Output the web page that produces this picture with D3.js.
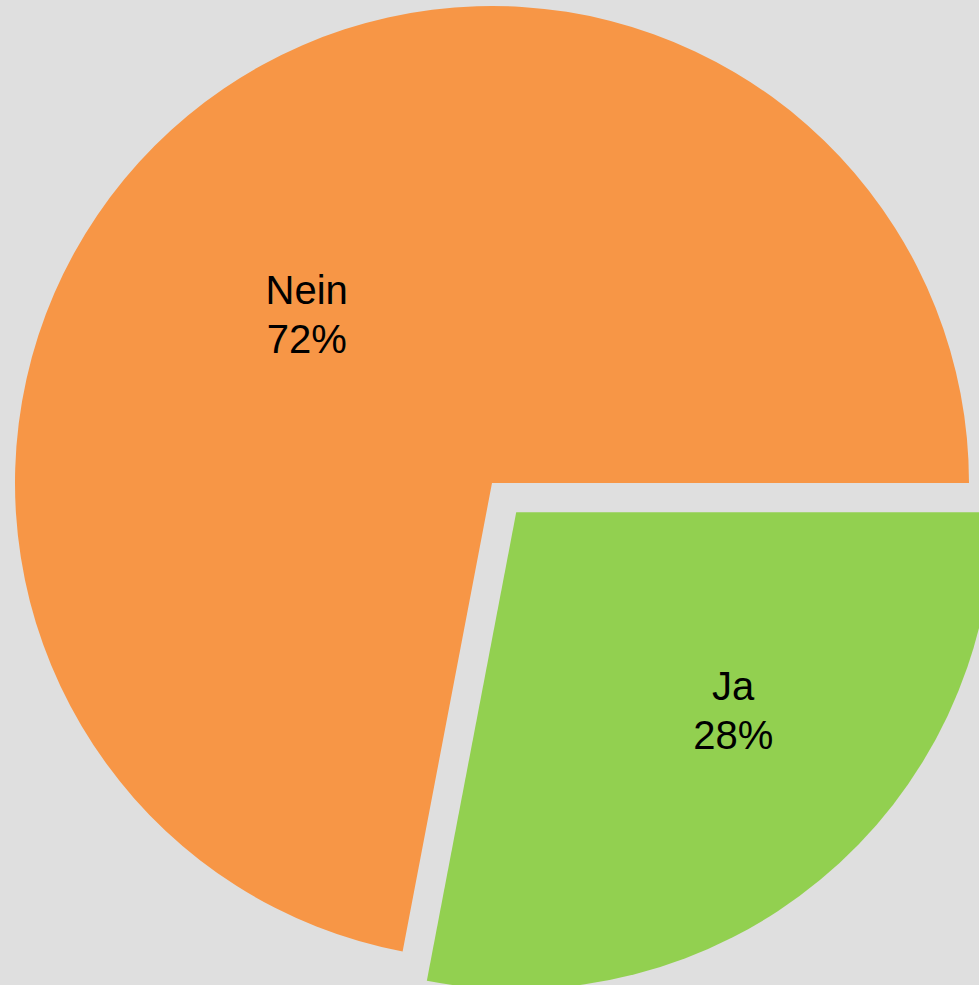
<!DOCTYPE html>
<html>
<head>
<meta charset="utf-8">
<script src="https://cdn.jsdelivr.net/npm/d3@7"></script>
<style>
  html, body { margin: 0; padding: 0; background: #dfdfdf; }
  svg { display: block; }
</style>
</head>
<body>
<script>
// Data
const categories = ["Ja", "Nein"];
const values = [28, 72];
const percentLabels = ["28%", "72%"];

// Styles / layout
const W = 979, H = 985;
const cx = 492, cy = 483, R = 477;
const colors = ["#92d050", "#f79646"];
const explode = [38, 0];
const labelRadiusFrac = [0.616, 0.526];
const labelAngleShift = -8 * Math.PI / 180;
const fontSize = 40, lineHeight = 49;

const svg = d3.select("body").append("svg")
  .attr("width", W).attr("height", H);

svg.append("rect").attr("width", W).attr("height", H).attr("fill", "#dfdfdf");

const pie = d3.pie().sort(null).value(d => d)
  .startAngle(Math.PI / 2).endAngle(Math.PI / 2 + 2 * Math.PI);
const arcs = pie(values);
const arc = d3.arc().innerRadius(0).outerRadius(R);

const g = svg.append("g").attr("transform", `translate(${cx},${cy})`);

arcs.forEach((a, i) => {
  const mid = (a.startAngle + a.endAngle) / 2;
  const ox = Math.sin(mid) * explode[i];
  const oy = -Math.cos(mid) * explode[i];
  const sg = g.append("g").attr("transform", `translate(${ox},${oy})`);
  sg.append("path").attr("d", arc(a)).attr("fill", colors[i]);

  const la = mid + labelAngleShift;
  const lr = R * labelRadiusFrac[i];
  const lx = Math.sin(la) * lr;
  const ly = -Math.cos(la) * lr;
  const t = sg.append("text")
    .attr("text-anchor", "middle")
    .attr("font-family", "Liberation Sans, Arial, sans-serif")
    .attr("font-size", fontSize)
    .attr("fill", "#000");
  t.append("tspan").attr("x", lx).attr("y", ly - 10).text(categories[i]);
  t.append("tspan").attr("x", lx).attr("y", ly - 10 + lineHeight).text(percentLabels[i]);
});
</script>
</body>
</html>
